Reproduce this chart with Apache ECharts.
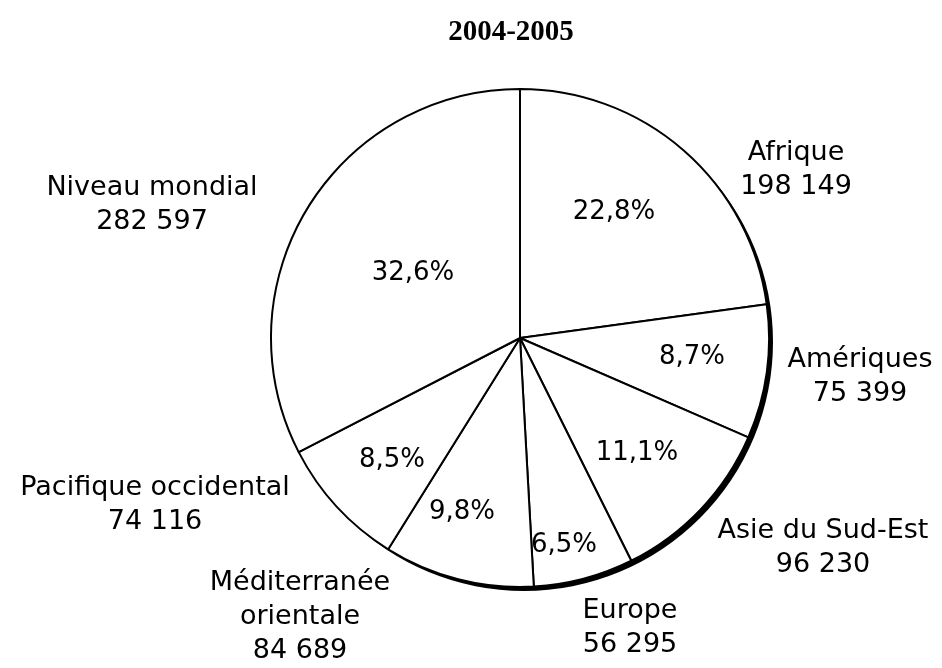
<!DOCTYPE html>
<html>
<head>
<meta charset="utf-8">
<script src="https://cdn.jsdelivr.net/npm/echarts@6/dist/echarts.min.js"></script>
<style>html,body{margin:0;padding:0;background:#fff;}#c{width:942px;height:668px;}</style>
</head>
<body>
<div id="c"></div>
<script>
const title = '2004-2005';
const regions = ['Afrique', 'Amériques', 'Asie du Sud-Est', 'Europe', 'Méditerranée\norientale', 'Pacifique occidental', 'Niveau mondial'];
const cases = [198149, 75399, 96230, 56295, 84689, 74116, 282597];

// label layout (text positions only)
const outerPos = [[796, 170], [860, 377], [823, 548], [630, 628], [300, 617], [155, 505], [152, 205]];
const innerPos = [[614, 212], [692, 357], [637, 453], [564, 545], [462, 512], [392, 460], [413, 273]];

const FONT = 'DejaVu Sans';
const fmtNum = v => String(v).replace(/\B(?=(\d{3})+(?!\d))/g, ' ');
const data = regions.map((n, i) => ({ name: n, value: cases[i] }));
const total = cases.reduce((a, b) => a + b, 0);

const chart = echarts.init(document.getElementById('c'), null, { renderer: 'canvas' });
chart.setOption({
  backgroundColor: '#fff',
  animation: false,
  title: {
    text: title, left: 506, top: 13, textAlign: 'center',
    textStyle: { fontFamily: 'Liberation Serif', fontWeight: 'bold', fontSize: 29, color: '#000' }
  },
  series: [
    {
      // shadow
      type: 'pie', silent: true, z: 1,
      center: [524, 342], radius: 249,
      data: [{ value: total, name: 'shadow' }],
      itemStyle: { color: '#000' },
      label: { show: false }, labelLine: { show: false }
    },
    {
      type: 'pie', z: 2, silent: true,
      center: [520, 338], radius: 249,
      startAngle: 90, clockwise: true,
      data: data,
      itemStyle: { color: '#fff', borderColor: '#000', borderWidth: 2 },
      label: {
        show: true, position: 'inside',
        fontFamily: FONT, fontSize: 26, color: '#000', overflow: 'none',
        formatter: p => (p.value / total * 100).toFixed(1).replace('.', ',') + '%'
      },
      labelLine: { show: false },
      labelLayout: p => ({ x: innerPos[p.dataIndex][0], y: innerPos[p.dataIndex][1], align: 'center', verticalAlign: 'middle' })
    },
    {
      type: 'pie', z: 3, silent: true,
      center: [520, 338], radius: 249,
      startAngle: 90, clockwise: true,
      data: data,
      itemStyle: { color: 'rgba(0,0,0,0)', borderWidth: 0 },
      label: {
        show: true, position: 'outside', overflow: 'none', width: 400,
        fontFamily: FONT, fontSize: 27, lineHeight: 34, color: '#000', align: 'center',
        formatter: p => p.name + '\n' + fmtNum(p.value)
      },
      labelLine: { show: false },
      labelLayout: p => ({ x: outerPos[p.dataIndex][0], y: outerPos[p.dataIndex][1], align: 'center', verticalAlign: 'middle' })
    }
  ]
});
</script>
</body>
</html>
